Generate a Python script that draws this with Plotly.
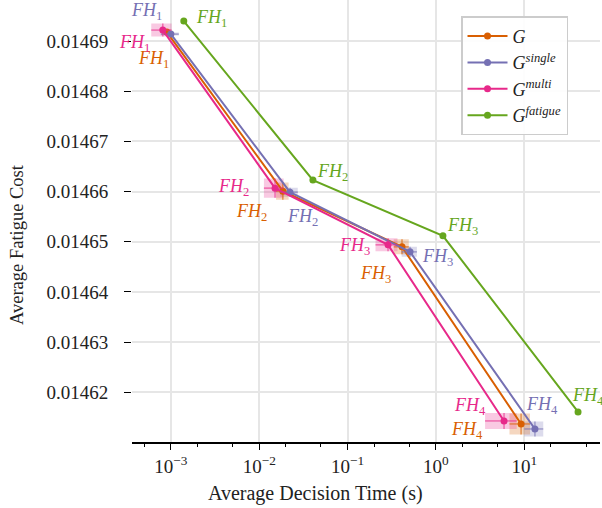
import math
import plotly.graph_objects as go

# ---- data ----
labels = ["FH1", "FH2", "FH3", "FH4"]

g_time = [9.0e-4, 0.0185, 0.413, 9.2]
g_cost = [0.0146918, 0.0146601, 0.0146490, 0.0146137]
g_time_err = [1.0e-4, 0.003, 0.08, 2.4]
g_cost_err = [0.5e-6, 1.7e-6, 1.5e-6, 2.1e-6]

single_time = [1.0e-3, 0.0223, 0.509, 13.2]
single_cost = [0.0146914, 0.0146599, 0.0146480, 0.0146127]
single_time_err = [2.3e-4, 0.005, 0.10, 3.2]
single_cost_err = [0.3e-6, 0.9e-6, 1.0e-6, 1.5e-6]

multi_time = [8.1e-4, 0.0151, 0.287, 5.9]
multi_cost = [0.0146922, 0.0146607, 0.0146494, 0.0146143]
multi_time_err = [2.1e-4, 0.0038, 0.08, 2.3]
multi_cost_err = [1.3e-6, 1.9e-6, 1.3e-6, 1.6e-6]

fatigue_time = [1.40e-3, 0.0405, 1.20, 40.6]
fatigue_cost = [0.0146940, 0.0146623, 0.0146512, 0.0146161]

xtick_vals = [1e-3, 1e-2, 1e-1, 1e0, 1e1]
xtick_text = ["10<sup>−3</sup>", "10<sup>−2</sup>", "10<sup>−1</sup>", "10<sup>0</sup>", "10<sup>1</sup>"]
ytick_vals = [0.01462, 0.01463, 0.01464, 0.01465, 0.01466, 0.01467, 0.01468, 0.01469]

FONT = "Liberation Serif"
ORANGE, PURPLE, PINK, GREEN = "#d95f02", "#7570b3", "#e7298a", "#66a61e"


def rgba(hexc, a):
    h = hexc.lstrip("#")
    return f"rgba({int(h[0:2],16)},{int(h[2:4],16)},{int(h[4:6],16)},{a})"


fig = go.Figure()


def add_boxes(xs, ys, exs, eys, color):
    bx, by = [], []
    for x, y, ex, ey in zip(xs, ys, exs, eys):
        bx += [x - ex, x + ex, x + ex, x - ex, x - ex, None]
        by += [y - ey, y - ey, y + ey, y + ey, y - ey, None]
    fig.add_trace(go.Scatter(x=bx, y=by, mode="lines", fill="toself",
                             fillcolor=rgba(color, 0.25), line=dict(width=0),
                             hoverinfo="skip", showlegend=False))


add_boxes(single_time, single_cost, single_time_err, single_cost_err, PURPLE)
add_boxes(g_time, g_cost, g_time_err, g_cost_err, ORANGE)
add_boxes(multi_time, multi_cost, multi_time_err, multi_cost_err, PINK)

series = [
    ("<i>G</i>", g_time, g_cost, g_time_err, g_cost_err, ORANGE),
    ("<i>G<sup>single</sup></i>", single_time, single_cost, single_time_err, single_cost_err, PURPLE),
    ("<i>G<sup>multi</sup></i>", multi_time, multi_cost, multi_time_err, multi_cost_err, PINK),
    ("<i>G<sup>fatigue</sup></i>", fatigue_time, fatigue_cost, None, None, GREEN),
]

for name, xs, ys, exs, eys, col in series:
    kw = {}
    if exs is not None:
        kw["error_x"] = dict(type="data", array=exs, color=rgba(col, 0.6), thickness=1.5, width=0)
        kw["error_y"] = dict(type="data", array=eys, color=rgba(col, 0.6), thickness=1.5, width=0)
    fig.add_trace(go.Scatter(x=xs, y=ys, mode="lines+markers", name=name,
                             line=dict(color=col, width=2),
                             marker=dict(color=col, size=7), **kw))

# label offsets (pixels: dx right, dy down)
offsets = {
    ORANGE: [(-13, 27), (-31, 21), (-27, 28), (-54, 7)],
    PURPLE: [(-24, -23), (12, 25), (27, 6), (7, -23)],
    PINK: [(-28, 13), (-42, -1), (-34, 2), (-34, -14)],
    GREEN: [(28, -3), (20, -8), (20, -9), (10, -15)],
}
for name, xs, ys, exs, eys, col in series:
    for i, (x, y) in enumerate(zip(xs, ys)):
        dx, dy = offsets[col][i]
        fig.add_annotation(x=math.log10(x), y=y, xref="x", yref="y",
                           text=f"<i>FH</i><sub>{labels[i][2]}</sub>",
                           showarrow=False, xshift=dx, yshift=-dy,
                           xanchor="center", yanchor="middle",
                           font=dict(family=FONT, size=18, color=col))

# axis titles
fig.add_annotation(text="Average Decision Time (s)", xref="paper", yref="paper",
                   x=0.393, y=-0.1154, xanchor="center", yanchor="middle", showarrow=False,
                   font=dict(family=FONT, size=20, color="#222"))
fig.add_annotation(text="Average Fatigue Cost", xref="paper", yref="paper",
                   x=-0.2457, y=0.4457, xanchor="center", yanchor="middle",
                   showarrow=False, textangle=-90,
                   font=dict(family=FONT, size=18.5, color="#222"))

fig.update_layout(
    width=602, height=508,
    margin=dict(l=132, r=2, t=0, b=66, autoexpand=False),
    plot_bgcolor="white", paper_bgcolor="white",
    font=dict(family=FONT, size=19, color="#222"),
    hovermode=False,
    legend=dict(x=0.703, y=0.963, xanchor="left", yanchor="top",
                bgcolor="rgba(255,255,255,0.9)", bordercolor="#cccccc", borderwidth=1.5,
                font=dict(family=FONT, size=18), itemwidth=40, tracegroupgap=0),
    xaxis=dict(type="log", range=[-3.44, 1.857], tickvals=xtick_vals, ticktext=xtick_text,
               automargin=False,
               showgrid=True, gridcolor="#e6e6e6", gridwidth=1.5,
               showline=True, linecolor="black", linewidth=1.5,
               ticks="outside", ticklen=6, tickwidth=1.2, tickcolor="black",
               minor=dict(ticks="outside", ticklen=3, tickwidth=1, tickcolor="black", showgrid=False),
               zeroline=False, tickfont=dict(size=19), ticklabelstandoff=0),
    yaxis=dict(range=[0.0146101, 0.0146982], tickvals=ytick_vals,
               tickformat=".5f", automargin=False,
               showgrid=True, gridcolor="#e6e6e6", gridwidth=1.5,
               showline=False, ticks="outside", ticklen=7, tickwidth=1.2, tickcolor="black",
               zeroline=False, tickfont=dict(size=19), ticklabelstandoff=12),
)

fig.write_html("out.html", config={"displayModeBar": False},
               post_script="document.body.style.margin='0px';")
